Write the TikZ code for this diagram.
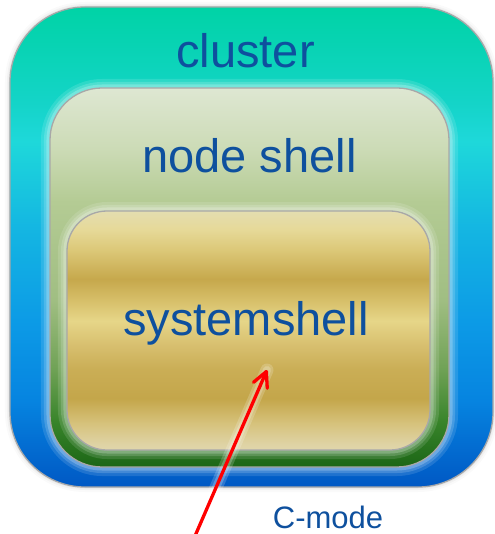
\documentclass[tikz,border=0pt]{standalone}
\usepackage{fontspec}
\setmainfont{Liberation Sans}
\usetikzlibrary{arrows.meta}

\definecolor{labelblue}{RGB}{14,80,158}
\definecolor{arrowred}{RGB}{255,0,0}
\definecolor{rimgray}{RGB}{168,168,168}

% cluster: teal at the top to deep blue at the bottom
\definecolor{clA}{RGB}{0,88,196}
\definecolor{clB}{RGB}{6,132,224}
\definecolor{clC}{RGB}{12,154,230}
\definecolor{clD}{RGB}{20,182,226}
\definecolor{clE}{RGB}{30,216,218}
\definecolor{clF}{RGB}{20,212,200}
\definecolor{clG}{RGB}{0,211,166}
\pgfdeclareverticalshading{clustershade}{100bp}{
  color(0bp)=(clA); color(25bp)=(clA); color(34bp)=(clB); color(42bp)=(clC);
  color(52bp)=(clD); color(61bp)=(clE); color(65bp)=(clF); color(75bp)=(clG);
  color(100bp)=(clG)}

% node shell: pale sage at the top to dark green at the bottom
\definecolor{nsA}{RGB}{28,102,22}
\definecolor{nsB}{RGB}{56,132,42}
\definecolor{nsC}{RGB}{112,162,86}
\definecolor{nsD}{RGB}{160,190,130}
\definecolor{nsE}{RGB}{180,203,148}
\definecolor{nsF}{RGB}{204,219,182}
\definecolor{nsG}{RGB}{222,231,210}
\pgfdeclareverticalshading{nodeshade}{100bp}{
  color(0bp)=(nsA); color(25bp)=(nsA); color(31bp)=(nsB); color(38bp)=(nsC);
  color(47bp)=(nsD); color(60bp)=(nsE); color(67bp)=(nsF); color(75bp)=(nsG);
  color(100bp)=(nsG)}

% systemshell: brushed gold bands
\definecolor{gdA}{RGB}{224,214,172}
\definecolor{gdB}{RGB}{222,210,162}
\definecolor{gdC}{RGB}{214,194,124}
\definecolor{gdD}{RGB}{196,166,74}
\definecolor{gdE}{RGB}{202,174,86}
\definecolor{gdF}{RGB}{216,192,112}
\definecolor{gdG}{RGB}{230,214,136}
\definecolor{gdH}{RGB}{214,190,104}
\definecolor{gdI}{RGB}{198,168,76}
\definecolor{gdJ}{RGB}{220,200,120}
\definecolor{gdK}{RGB}{230,217,152}
\definecolor{gdL}{RGB}{228,221,176}
\pgfdeclareverticalshading{goldshade}{100bp}{
  color(0bp)=(gdA); color(25bp)=(gdA); color(26.5bp)=(gdB); color(30.6bp)=(gdC);
  color(35.8bp)=(gdD); color(42bp)=(gdE); color(47.2bp)=(gdF); color(52bp)=(gdG);
  color(56.5bp)=(gdH); color(60.7bp)=(gdI); color(66.9bp)=(gdJ); color(71.1bp)=(gdK);
  color(75bp)=(gdL); color(100bp)=(gdL)}

\tikzset{
  panel/.style={rectangle, inner sep=0pt, outer sep=0pt, draw=rimgray, line width=1.3bp},
  glow/.style={
    preaction={draw=white, line width=18bp, opacity=0.12},
    preaction={draw=white, line width=12bp, opacity=0.16},
    preaction={draw=white, line width=7bp, opacity=0.22}},
  shadowed/.style={
    preaction={draw=black, line width=10bp, opacity=0.02},
    preaction={draw=black, line width=6bp, opacity=0.03},
    preaction={draw=black, line width=3bp, opacity=0.04}},
  title/.style={text=labelblue, inner sep=0pt, anchor=base,
    font=\fontsize{47bp}{56bp}\selectfont},
  note/.style={text=labelblue, inner sep=0pt, anchor=base,
    font=\fontsize{31bp}{37bp}\selectfont},
  pointer/.style={draw=arrowred, line width=3.3bp, line cap=round,
    -{Straight Barb[length=15bp, width=15bp, line width=3.3bp, round]}}
}

\begin{document}
\begin{tikzpicture}[x=1bp, y=-1bp]
  \useasboundingbox[fill=white] (0,0) rectangle (495,534);

  % nested shells
  \node[panel, shadowed, shading=clustershade, minimum width=483bp, minimum height=480bp,
        rounded corners=75bp] (clusterbox) at (251.5,247) {};
  \node[panel, glow, shading=nodeshade, minimum width=399bp, minimum height=379bp,
        rounded corners=52bp] (nodebox) at (249.5,277.5) {};
  \node[panel, glow, shading=goldshade, minimum width=363bp, minimum height=239bp,
        rounded corners=40bp] (systembox) at (248.5,330.5) {};

  % labels
  \node[title] (clusterlabel) at (245.5,68) {cluster};
  \node[title] (nodelabel) at (249.5,173) {node shell};
  \node[title] (systemlabel) at (246,335) {systemshell};
  \node[note] (modelabel) at (328,528) {C-mode};

  % pointer into the system shell, with a soft halo
  \coordinate (tail) at (195,536);
  \coordinate (tip) at (267,370);
  \draw[white, line width=13bp, opacity=0.18, line cap=round] (tail) -- (tip);
  \draw[white, line width=8bp, opacity=0.22, line cap=round] (tail) -- (tip);
  \draw[pointer] (tail) -- (tip);
\end{tikzpicture}
\end{document}
